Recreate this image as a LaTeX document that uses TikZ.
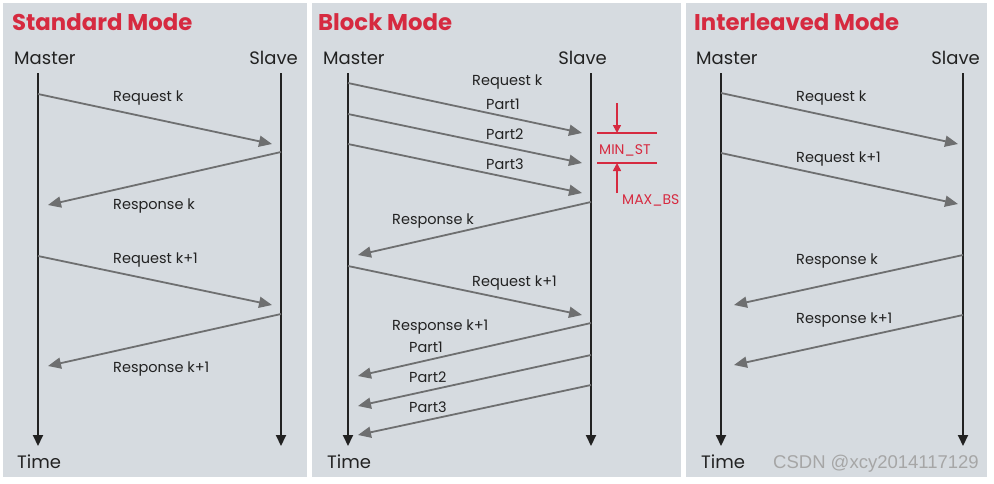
\documentclass[tikz,border=0pt]{standalone}
\usepackage{fontspec}
\setmainfont{Poppins}
\setsansfont{Liberation Sans}
\usetikzlibrary{arrows.meta}
\definecolor{panelgray}{HTML}{D6DBE0}
\definecolor{modered}{HTML}{D62A40}
\definecolor{msggray}{HTML}{6E6F70}
\definecolor{inkblack}{HTML}{222222}
\tikzset{
  panel/.style={fill=panelgray,draw=none},
  modetitle/.style={anchor=base west,inner sep=0pt,text=modered,font=\fontsize{22.8}{23}\selectfont\bfseries},
  role/.style={inner sep=0pt,text=inkblack,font=\fontsize{18}{18}\selectfont},
  lifeline/.style={draw=inkblack,line width=2pt,-{Triangle[length=11pt,width=10pt]}},
  msg/.style={draw=msggray,line width=1.8pt,-{Triangle[length=13pt,width=11pt]}},
  msglabel/.style={anchor=base west,inner sep=0pt,text=inkblack,font=\fontsize{14.5}{14.5}\selectfont},
  redmark/.style={draw=modered,line width=1.6pt},
  redlabel/.style={anchor=base west,inner sep=0pt,text=modered,font=\fontsize{14}{14}\selectfont},
}
\begin{document}
\begin{tikzpicture}[x=1pt,y=-1pt]
\useasboundingbox (0,0) rectangle (994,483);
% panels
\fill[panel] (3,3) rectangle (307,477);
\fill[panel] (312,3) rectangle (681,477);
\fill[panel] (686,3) rectangle (987,477);
% titles
\node[modetitle] (std) at (12,30) {Standard Mode};
\node[modetitle] (blk) at (318,30) {Block Mode};
\node[modetitle] (itl) at (694,30) {Interleaved Mode};
% master / slave / time, one set per panel
\foreach \p/\mt/\m/\s/\st/\tt in {1/14/38/281/298/17, 2/323/348/591/607/327, 3/696/721/963/980/701}{
  \node[role,anchor=base west] (master\p) at (\mt,64) {Master};
  \node[role,anchor=base east] (slave\p) at (\st,64) {Slave};
  \node[role,anchor=base west] (time\p) at (\tt,468) {Time};
  \coordinate (mtop\p) at (\m,73); \coordinate (mbot\p) at (\m,446);
  \coordinate (stop\p) at (\s,73); \coordinate (sbot\p) at (\s,446);
  \draw[lifeline] (mtop\p) -- (mbot\p);
  \draw[lifeline] (stop\p) -- (sbot\p);
}
% messages
\foreach \n/\xa/\ya/\xb/\yb in {
  a1/38/94/272/144, a2/281/152/48/205, a3/38/256/272/305, a4/281/314/48/366,
  b1/348/83/582/133, b2/348/114/582/163, b3/348/144/582/193, b4/591/202/358/255,
  b5/348/266/582/315, b6/591/323/358/376, b7/591/355/358/406, b8/591/385/358/435,
  c1/721/93/958/144, c2/721/153/958/204, c3/963/255/734/305, c4/963/315/734/365}{
  \coordinate (from\n) at (\xa,\ya); \coordinate (to\n) at (\xb,\yb);
  \draw[msg] (from\n) -- (to\n);
}
% message labels
\foreach \n/\x/\y/\t in {
  a1/113/101/Request k, a2/113/209/Response k, a3/113/263/Request k+1, a4/113/372/Response k+1,
  b1/472/85/Request k, b2/486/109/Part1, b3/486/139/Part2, b4/486/169/Part3,
  b5/392/224/Response k, b6/472/286/Request k+1, b7/392/330/Response k+1,
  b8/409/352/Part1, b9/409/382/Part2, b10/409/412/Part3,
  c1/796/101/Request k, c2/796/162/Request k+1, c3/796/264/Response k, c4/796/323/Response k+1}
  \node[msglabel] (lbl\n) at (\x,\y) {\t};
% MIN_ST / MAX_BS marks
\coordinate (stl) at (597,133); \coordinate (str) at (657,133);
\coordinate (bsl) at (597,163); \coordinate (bsr) at (657,163);
\draw[redmark] (stl) -- (str);
\draw[redmark] (bsl) -- (bsr);
\coordinate (stin) at (617,103); \coordinate (bsin) at (617,193);
\draw[redmark,-{Triangle[length=8pt,width=8pt]}] (stin) -- (617,133);
\draw[redmark,-{Triangle[length=8pt,width=8pt]}] (bsin) -- (617,163);
\node[redlabel] (minst) at (599,154) {MIN\_ST};
\node[redlabel] (maxbs) at (622,204) {MAX\_BS};
% watermark
\node[anchor=base west,inner sep=0pt,text=black!35,font=\sffamily\fontsize{18.5}{18.5}\selectfont] (wm) at (773,468) {CSDN @xcy2014117129};
\end{tikzpicture}
\end{document}
